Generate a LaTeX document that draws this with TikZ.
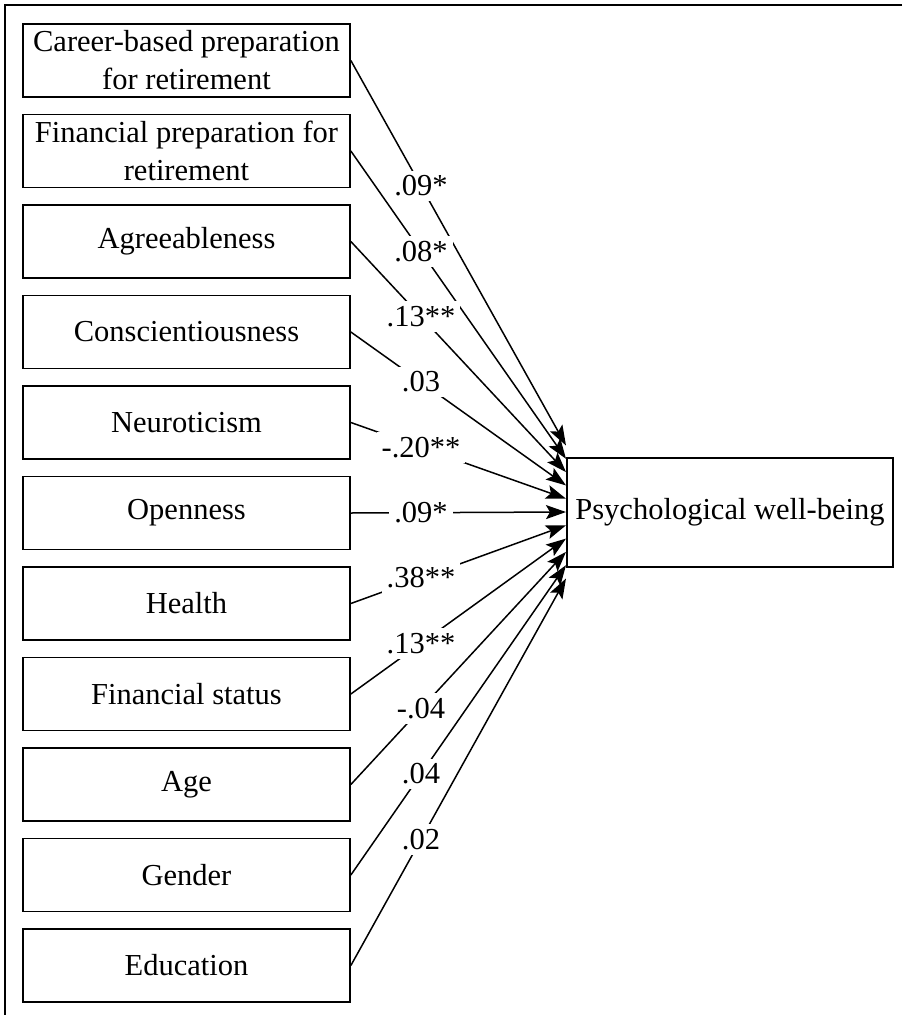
\documentclass[tikz,border=0pt]{standalone}
\usepackage{fontspec}
\setmainfont{Liberation Serif}
\usetikzlibrary{arrows.meta}
\begin{document}
\begin{tikzpicture}[x=1pt,y=-1pt,
  every node/.style={font=\fontsize{30.5}{38}\selectfont},
  predictor/.style={draw, line width=1.7pt, minimum width=327pt, minimum height=73pt,
    inner sep=0pt, align=center},
  outcome/.style={draw, line width=1.7pt, minimum width=326pt, minimum height=109pt,
    inner sep=0pt},
  path/.style={line width=1.5pt, -{Stealth[length=20pt,width=14pt,inset=4pt]}},
  coef/.style={fill=white, inner sep=5pt, pos=0.326}]
\useasboundingbox (0,0) rectangle (903,1015);
% partial frame (top and left edges)
\draw[line width=2.4pt] (902,5) -- (5,5) -- (5,1015);
% predictors
\foreach \name/\txt [count=\i from 0] in {
  cbp/{Career-based preparation\\for retirement},
  fpr/{Financial preparation for\\retirement},
  agr/Agreeableness,
  con/Conscientiousness,
  neu/Neuroticism,
  ope/Openness,
  hea/Health,
  fst/Financial status,
  age/Age,
  gen/Gender,
  edu/Education}{
  \node[predictor] (\name) at (186.5, 60.5+90.5*\i) {\txt};
  \coordinate (t\name) at (566, 445.5+13.3*\i);
}
% outcome
\node[outcome] (pwb) at (730, 512.5) {Psychological well-being};
% paths with standardized coefficients
\draw[path] (cbp.east) -- node[coef] {.09*} (tcbp);
\draw[path] (fpr.east) -- node[coef] {.08*} (tfpr);
\draw[path] (agr.east) -- node[coef] {.13**} (tagr);
\draw[path] (con.east) -- node[coef] {.03} (tcon);
\draw[path] (neu.east) -- node[coef] {-.20**} (tneu);
\draw[path] (ope.east) -- node[coef] {.09*} (tope);
\draw[path] (hea.east) -- node[coef] {.38**} (thea);
\draw[path] (fst.east) -- node[coef] {.13**} (tfst);
\draw[path] (age.east) -- node[coef] {-.04} (tage);
\draw[path] (gen.east) -- node[coef] {.04} (tgen);
\draw[path] (edu.east) -- node[coef] {.02} (tedu);
\end{tikzpicture}
\end{document}
